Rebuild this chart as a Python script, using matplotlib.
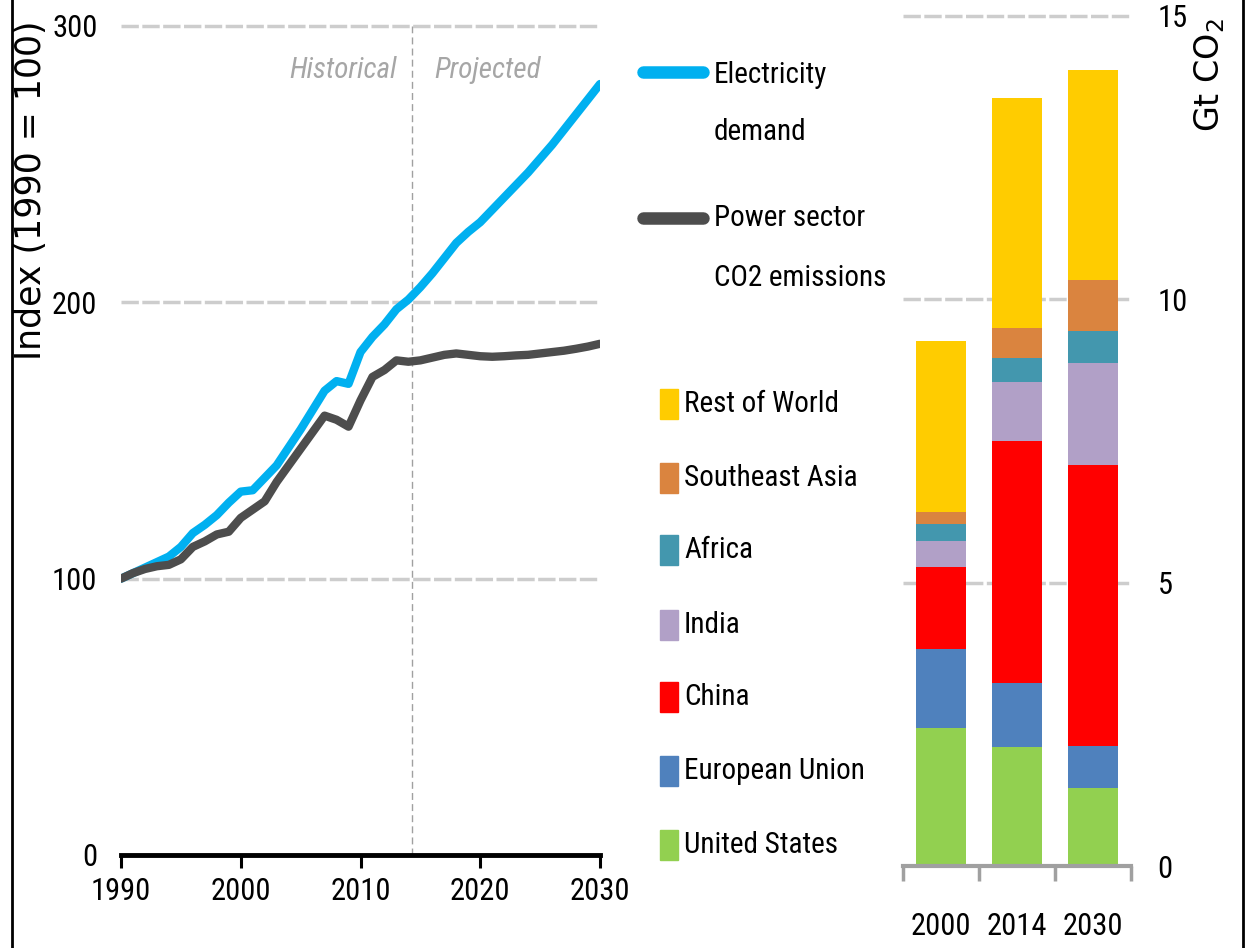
import matplotlib
matplotlib.use("Agg")
import matplotlib.pyplot as plt
from matplotlib import font_manager
from matplotlib.lines import Line2D
from matplotlib.patches import Rectangle

# ---- data ----
years_hist = list(range(1990, 2015))
years_proj = list(range(2014, 2031))
demand_hist = [100, 102, 104, 106, 108, 111.5, 116.5, 119.5, 123, 127.5, 131.5, 132,
               136.5, 141, 147.5, 154, 161, 168, 171.5, 170.5, 182, 187.5, 192, 197.5, 201]
demand_proj = [201, 205.5, 210.5, 216, 221.5, 225.5, 229, 233.5, 238, 242.5, 247,
               252, 257, 262.5, 268, 273.5, 279]
co2_hist = [100, 102, 103.5, 104.5, 105, 107, 111.5, 113.5, 116, 117, 122, 125,
            128, 135, 141, 147, 153, 159, 157.5, 155, 164.5, 173, 175.5, 179, 178.5]
co2_proj = [178.5, 179, 180, 181, 181.5, 181, 180.5, 180.3, 180.5, 180.8, 181,
            181.5, 182, 182.5, 183.2, 184, 185]

bar_years = ["2000", "2014", "2030"]
regions = ["United States", "European Union", "China", "India", "Africa",
           "Southeast Asia", "Rest of World"]
emissions = {
    "United States": [2.44, 2.10, 1.38],
    "European Union": [1.38, 1.13, 0.74],
    "China": [1.45, 4.26, 4.95],
    "India": [0.47, 1.04, 1.80],
    "Africa": [0.30, 0.44, 0.56],
    "Southeast Asia": [0.21, 0.52, 0.91],
    "Rest of World": [3.01, 4.06, 3.71],
}
region_colors = ["#92D050", "#4F81BD", "#FF0000", "#B1A0C7", "#4397AE",
                 "#DA843F", "#FFCC00"]

BLUE = "#00B0F0"
GREY = "#4D4D4D"
GRID = "#CDCDCD"

# narrow font similar to the original (Calibri-like)
fonts = font_manager.fontManager.ttflist
names = {f.name for f in fonts}
NARROW, STRETCH = "Liberation Sans", "normal"
for cand in ["Liberation Sans Narrow", "Roboto Condensed", "Open Sans Condensed"]:
    if cand in names:
        NARROW = cand
        break
else:
    if any(f.name == "DejaVu Sans" and f.stretch == "condensed" for f in fonts):
        NARROW, STRETCH = "DejaVu Sans", "condensed"
plt.rcParams["font.family"] = [NARROW, "DejaVu Sans"]
plt.rcParams["font.stretch"] = STRETCH
FS = 21

W, H = 1248, 948
fig = plt.figure(figsize=(W / 100, H / 100), dpi=100)


def fx(px):
    return px / W


def fy(py):
    return 1 - py / H


# ---- left: index lines ----
ax = fig.add_axes([fx(121), fy(855), fx(600) - fx(121), fy(26) - fy(855)])
ax.set_xlim(1990, 2030)
ax.set_ylim(0, 300)
for v in [100, 200, 300]:
    ax.axhline(v, color=GRID, lw=2.5, ls=(0, (5, 1)), zorder=0, clip_on=False)
ax.axvline(2014.3, color="#A0A0A0", lw=1, ls=(0, (5, 3)), zorder=1)

ax.plot(years_hist + years_proj[1:], demand_hist + demand_proj[1:], color=BLUE,
        lw=6, solid_capstyle="round", solid_joinstyle="round", zorder=3)
ax.plot(years_hist + years_proj[1:], co2_hist + co2_proj[1:], color=GREY,
        lw=6, solid_capstyle="round", solid_joinstyle="round", zorder=3)

ax.text(2013.0, 284, "Historical", ha="right", va="center", style="italic",
        color="#A6A6A6", fontsize=21)
ax.text(2016.2, 284, "Projected", ha="left", va="center", style="italic",
        color="#A6A6A6", fontsize=21)

for s in ["top", "right", "left"]:
    ax.spines[s].set_visible(False)
ax.spines["bottom"].set_linewidth(3.5)
ax.set_xticks([1990, 2000, 2010, 2020, 2030])
ax.set_yticks([0, 100, 200, 300])
ax.tick_params(axis="x", direction="out", length=9, width=2.2, pad=7, labelsize=22)
ax.tick_params(axis="y", length=0, pad=17, labelsize=22)

fig.text(fx(31), fy(190), "Index (1990 = 100)", rotation=90, ha="center",
         va="center", fontsize=25, family="DejaVu Sans", stretch="normal")

# line legend
fig.add_artist(Line2D([fx(643), fx(703)], [fy(72)] * 2, color=BLUE, lw=9,
                      solid_capstyle="round"))
fig.add_artist(Line2D([fx(643), fx(703)], [fy(218)] * 2, color=GREY, lw=9,
                      solid_capstyle="round"))
fig.text(fx(714), fy(75), "Electricity", ha="left", va="center", fontsize=FS)
fig.text(fx(714), fy(132), "demand", ha="left", va="center", fontsize=FS)
fig.text(fx(714), fy(218), "Power sector", ha="left", va="center", fontsize=FS)
fig.text(fx(714), fy(278), "CO2 emissions", ha="left", va="center", fontsize=FS)

# ---- right: stacked bars ----
ax2 = fig.add_axes([fx(903), fy(866), fx(1131) - fx(903), fy(15.7) - fy(866)])
ax2.set_xlim(-0.5, 2.5)
ax2.set_ylim(0, 15)
for v in [5, 10, 15]:
    ax2.axhline(v, color=GRID, lw=2.5, ls=(0, (5, 1)), zorder=0, clip_on=False)

bottom = [0, 0, 0]
for reg, col in zip(regions, region_colors):
    vals = emissions[reg]
    ax2.bar(range(3), vals, width=0.66, bottom=bottom, color=col, zorder=2)
    bottom = [b + v for b, v in zip(bottom, vals)]

for s in ["top", "right", "left"]:
    ax2.spines[s].set_visible(False)
ax2.spines["bottom"].set_linewidth(3)
ax2.spines["bottom"].set_color("#A0A0A0")
ax2.set_xticks(range(3))
ax2.set_xticklabels(bar_years)
ax2.set_xticks([-0.5, 0.5, 1.5, 2.5], minor=True)
ax2.tick_params(axis="x", which="major", length=0, pad=33, labelsize=22)
ax2.tick_params(axis="x", which="minor", direction="out", length=11, width=2.5,
                color="#A0A0A0")
ax2.yaxis.tick_right()
ax2.set_yticks([0, 5, 10, 15])
ax2.tick_params(axis="y", length=0, pad=19, labelsize=22)

fig.text(fx(1210), fy(75), "Gt CO$_2$", rotation=90, ha="center", va="center",
         fontsize=24, family="DejaVu Sans", stretch="normal")

# bar legend (top to bottom)
leg_y = [404, 478, 550, 625, 697, 771, 845]
for reg, col, py in zip(regions[::-1], region_colors[::-1], leg_y):
    fig.add_artist(Rectangle((fx(660), fy(py + 15)), fx(18), 30 / H, color=col))
    fig.text(fx(684), fy(py), reg, ha="left", va="center", fontsize=FS)

# frame edges
fig.add_artist(Line2D([fx(12)] * 2, [0, 1], color="black", lw=2))
fig.add_artist(Line2D([fx(1243)] * 2, [0, 1], color="black", lw=2))

fig.savefig("out.png", dpi=100)
